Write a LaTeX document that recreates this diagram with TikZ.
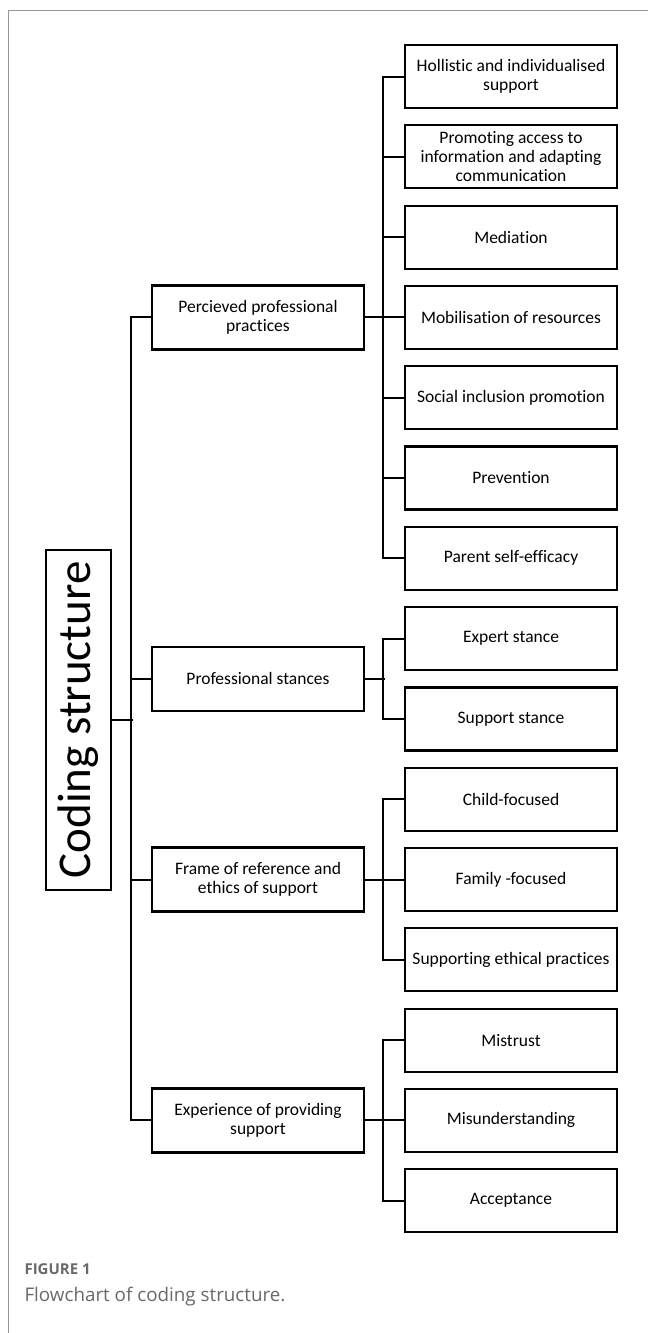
\documentclass[tikz,border=0pt]{standalone}
\usepackage{fontspec}
\setmainfont{Carlito}[Ligatures={NoCommon,NoContextual}]
\newfontfamily\capfont{Open Sans}
\usetikzlibrary{positioning}
\definecolor{capgray}{RGB}{105,105,105}
\definecolor{framegray}{RGB}{150,150,150}

\tikzset{
	leaf/.style={draw,line width=2.2pt,minimum width=212pt,minimum height=63pt,inner sep=0pt,align=center,font=\fontsize{17.5}{19}\selectfont},
	cat/.style={leaf,minimum height=64pt},
	link/.style={line width=2pt},
}

\begin{document}
\begin{tikzpicture}[x=1pt,y=-1pt]
		\useasboundingbox (0,0) rectangle (648,1333);
		\draw[framegray,line width=1pt] (8,1333) -- (8,10) -- (648,10);
		
		\node[draw,line width=2.2pt,rotate=90,minimum width=340pt,minimum height=65pt,inner sep=0pt,font=\fontsize{47}{52}\selectfont] (root) at (78.5,720) {Coding structure};
		
		\node[cat] (prac) at (258,317.4) {Percieved professional\\practices};
		\node[cat] (stance) at (258,678.75) {Professional stances};
		\node[cat] (frame) at (258,879.5) {Frame of reference and\\ethics of support};
		\node[cat] (exper) at (258,1120.4) {Experience of providing\\support};
		
		\node[leaf] (holl) at (511,76.5) {Hollistic and individualised\\support};
		\node[leaf] (access) at (511,156.8) {Promoting access to\\information and adapting\\communication};
		\node[leaf] (media) at (511,237.1) {Mediation};
		\node[leaf] (mobil) at (511,317.4) {Mobilisation of resources};
		\node[leaf] (social) at (511,397.7) {Social inclusion promotion};
		\node[leaf] (prev) at (511,478.0) {Prevention};
		\node[leaf] (parent) at (511,558.3) {Parent self-efficacy};
		\node[leaf] (expert) at (511,638.6) {Expert stance};
		\node[leaf] (supp) at (511,718.9) {Support stance};
		\node[leaf] (child) at (511,799.2) {Child-focused};
		\node[leaf] (family) at (511,879.5) {Family -focused};
		\node[leaf] (ethic) at (511,959.8) {Supporting ethical practices};
		\node[leaf] (mistr) at (511,1040.1) {Mistrust};
		\node[leaf] (misund) at (511,1120.4) {Misunderstanding};
		\node[leaf] (accept) at (511,1200.7) {Acceptance};
		
		\draw[link] (root.south) -- ++(21,0);
		\draw[link] (prac.west) -- ++(-20,0) |- (exper.west);
		\draw[link] (stance.west) -- ++(-20,0);
		\draw[link] (frame.west) -- ++(-20,0);
		
		\draw[link] (prac.east) -- (mobil.west);
		\draw[link] (holl.west) -- ++(-21,0) |- (parent.west);
		\draw[link] (access.west) -- ++(-21,0);
		\draw[link] (media.west) -- ++(-21,0);
		\draw[link] (social.west) -- ++(-21,0);
		\draw[link] (prev.west) -- ++(-21,0);
		
		\draw[link] (stance.east) -- ++(20,0);
		\draw[link] (expert.west) -- ++(-21,0) |- (supp.west);
		
		\draw[link] (frame.east) -- (family.west);
		\draw[link] (child.west) -- ++(-21,0) |- (ethic.west);
		
		\draw[link] (exper.east) -- (misund.west);
		\draw[link] (mistr.west) -- ++(-21,0) |- (accept.west);
		
		\node[anchor=west,text=capgray,font=\capfont\fontsize{15}{17}\selectfont\bfseries] (fignum) at (21,1269) {FIGURE 1};
		\node[anchor=west,text=capgray,font=\capfont\fontsize{18.8}{21}\selectfont] (figcap) at (21,1297) {Flowchart of coding structure.};
		
		\end{tikzpicture}
\end{document}
